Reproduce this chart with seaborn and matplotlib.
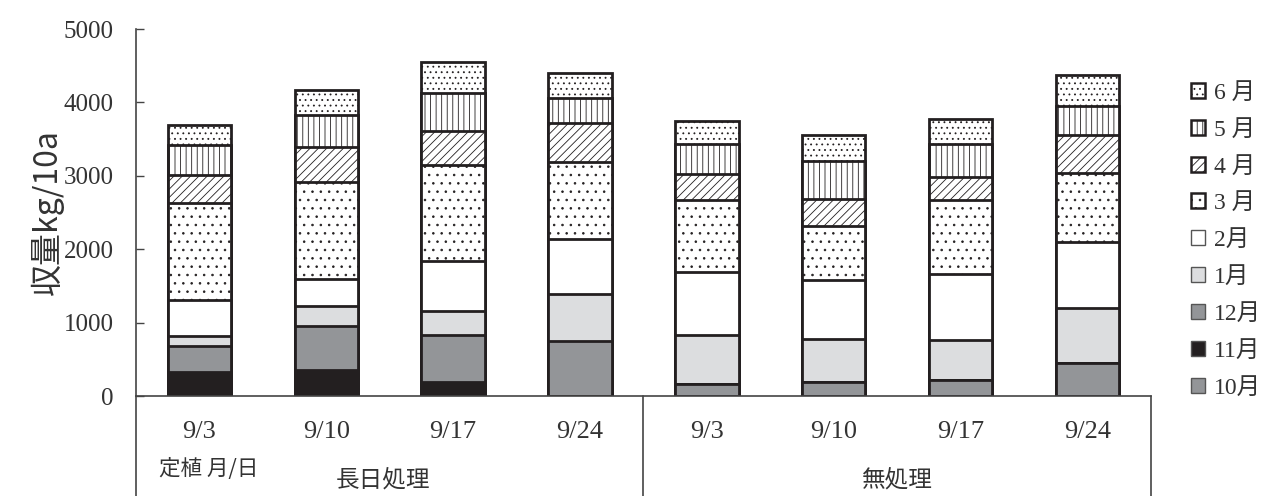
import numpy as np
import pandas as pd
import matplotlib
matplotlib.use("Agg")
import matplotlib.pyplot as plt
import matplotlib.transforms as mtransforms
from matplotlib.patches import Patch
import seaborn as sns

# ---- data (kg/10a) ----
bar_ids = ["L9/3", "L9/10", "L9/17", "L9/24", "N9/3", "N9/10", "N9/17", "N9/24"]
date_labels = ["9/3", "9/10", "9/17", "9/24", "9/3", "9/10", "9/17", "9/24"]
months = ["10月", "11月", "12月", "1月", "2月", "3月", "4月", "5月", "6月"]
legend_labels = ["10月", "11月", "12月", "1月", "2月", "3 月", "4 月", "5 月", "6 月"]

oct_ = [0, 0, 0, 0, 165, 195, 220, 445]
nov = [330, 350, 195, 0, 0, 0, 0, 0]
dec = [350, 600, 635, 755, 0, 0, 0, 0]
jan = [135, 270, 330, 635, 665, 585, 545, 750]
feb = [495, 370, 680, 750, 865, 800, 895, 900]
mar = [1325, 1330, 1310, 1050, 975, 740, 1005, 940]
apr = [380, 470, 455, 525, 350, 365, 315, 520]
may = [400, 445, 520, 350, 410, 510, 455, 395]
jun = [280, 335, 430, 330, 310, 365, 335, 420]
series = [oct_, nov, dec, jan, feb, mar, apr, may, jun]

group_labels = ["長日処理", "無処理"]

# ---- styles ----
facecolors = ["#939598", "#231f20", "#939598", "#dcdddf", "#ffffff",
              "#ffffff", "#ffffff", "#ffffff", "#ffffff"]
hatches = [None, None, None, None, None, "..", "////", "|||", "..."]

sns.set_theme(style="white")
plt.rcParams["font.family"] = ["Liberation Serif", "Noto Sans CJK JP", "DejaVu Sans"]
plt.rcParams["hatch.linewidth"] = 0.6

fig = plt.figure(figsize=(12.66, 4.96), dpi=100)
ax = fig.add_axes([0.1074, 0.2016, 0.8017, 0.7399])

cum = np.cumsum(np.array(series, dtype=float), axis=0)
# draw from top series down so lower cumulative bars overlay upper ones
for i in range(len(series) - 1, -1, -1):
    df = pd.DataFrame({"bar": bar_ids, "value": cum[i]})
    sns.barplot(data=df, x="bar", y="value", order=bar_ids, ax=ax,
                width=0.5, color=facecolors[i], saturation=1,
                edgecolor="#231f20", linewidth=2.0, hatch=hatches[i])

ax.set_xlim(-0.5, 7.5)
ax.set_ylim(0, 5000)
ax.set_yticks([0, 1000, 2000, 3000, 4000, 5000])
ax.set_yticklabels(["0", "1000", "2000", "3000", "4000", "5000"], fontsize=18, color="#333333")
ax.set_xticks(range(len(bar_ids)))
ax.set_xticklabels(date_labels, fontsize=19, color="#333333")
ax.tick_params(axis="y", direction="in", length=6, width=1, color="#444444", pad=16, left=True)
ax.tick_params(axis="x", length=0, pad=18)
ax.set_xlabel("")
ax.set_ylabel("収量kg/10a", fontsize=23, color="#333333", labelpad=0,
              family=["Noto Sans CJK JP", "DejaVu Sans"])

for s in ["top", "right"]:
    ax.spines[s].set_visible(False)
for s in ["left", "bottom"]:
    ax.spines[s].set_color("#444444")
    ax.spines[s].set_linewidth(1.2)

# category-table lines below the axis
trans = mtransforms.blended_transform_factory(ax.transData, ax.transAxes)
ybot = -0.2016 / 0.7399
for xv in [-0.5, 3.5, 7.5]:
    ax.plot([xv, xv], [0, ybot], transform=trans, color="#444444", lw=1.2, clip_on=False)

# group labels
ax.text(1.45, -0.23, group_labels[0], transform=trans, ha="center", va="center",
        fontsize=17, color="#333333", family=["Noto Sans CJK JP", "DejaVu Sans"])
ax.text(5.5, -0.23, group_labels[1], transform=trans, ha="center", va="center",
        fontsize=17, color="#333333", family=["Noto Sans CJK JP", "DejaVu Sans"])
ax.text(-0.32, -0.2, "定植 月/日", transform=trans, ha="left", va="center",
        fontsize=15.5, color="#333333", family=["Noto Sans CJK JP", "DejaVu Sans"])

# legend
handles = []
for i in range(len(series) - 1, -1, -1):
    hi = i >= 5
    handles.append(Patch(facecolor=facecolors[i], hatch=hatches[i],
                         edgecolor="#231f20" if hi else "#555555",
                         linewidth=1.8 if hi else 1.0,
                         label=legend_labels[i]))
leg = fig.legend(handles=handles, loc="upper left", bbox_to_anchor=(0.933, 0.852),
                 frameon=False, fontsize=17, handlelength=0.6, handleheight=0.6,
                 handletextpad=0.4, labelspacing=0.67, borderaxespad=0)
for t in leg.get_texts():
    t.set_color("#333333")
    t.set_family(["Liberation Serif", "Noto Sans CJK JP", "DejaVu Sans"])

fig.savefig("out.png", dpi=100)
